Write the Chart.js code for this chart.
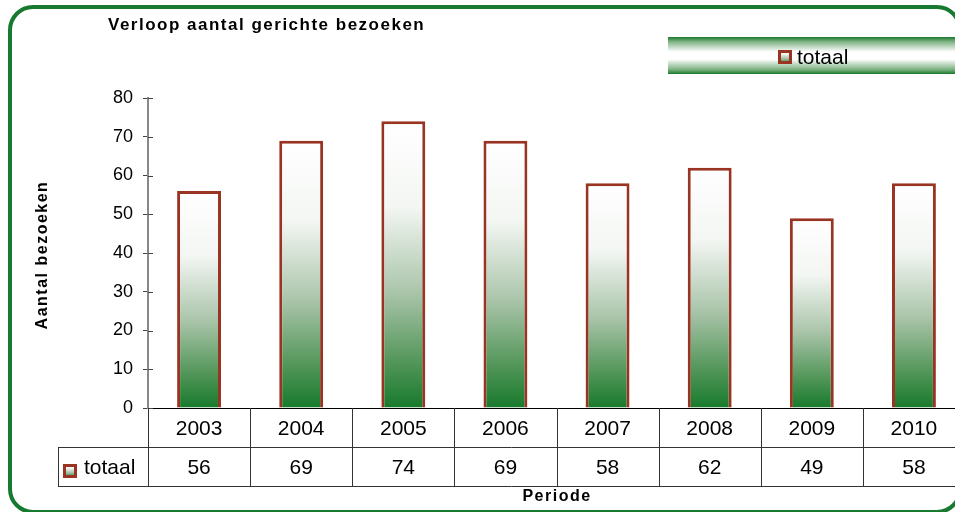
<!DOCTYPE html>
<html>
<head>
<meta charset="utf-8">
<script src="https://cdn.jsdelivr.net/npm/chart.js@4/dist/chart.umd.min.js"></script>
<style>
  html, body { margin: 0; padding: 0; background: #fff; overflow: hidden; }
  #wrap { position: relative; width: 955px; height: 512px; overflow: hidden; }
  #frame {
    position: absolute; left: 8px; top: 5px; width: 946px; height: 501px;
    border: 4px solid #177a30; border-radius: 25px; pointer-events: none;
  }
  canvas { position: absolute; left: 0; top: 0; }
</style>
</head>
<body>
<div id="wrap">
  <canvas id="chart" width="970" height="512"></canvas>
  <div id="frame"></div>
</div>
<script>
// data
var years  = ['2003', '2004', '2005', '2006', '2007', '2008', '2009', '2010'];
var totaal = [56, 69, 74, 69, 58, 62, 49, 58];
var yTicks = [0, 10, 20, 30, 40, 50, 60, 70, 80];

var FONT = "Arial, 'Liberation Sans', sans-serif";
var GREEN = '#177a2c';
var BROWN = '#993322';

// gradient for a bar, white at the top, green at the base
function barGradient(ctx, top, bottom) {
    var g = ctx.createLinearGradient(0, top, 0, bottom);
    g.addColorStop(0, '#ffffff');
    g.addColorStop(0.3, '#f3f6f3');
    g.addColorStop(0.6, '#a9c4a9');
    g.addColorStop(0.85, '#4f9456');
    g.addColorStop(1, GREEN);
    return g;
}

function marker(ctx, x, y, s) {
    ctx.save();
    ctx.fillStyle = barGradient(ctx, y, y + s);
    ctx.fillRect(x, y, s, s);
    ctx.lineWidth = 3;
    ctx.strokeStyle = BROWN;
    ctx.strokeRect(x + 1.5, y + 1.5, s - 3, s - 3);
    ctx.restore();
}

var extras = {
    id: 'extras',
    afterDraw: function (chart) {
        var ctx = chart.ctx;
        var area = chart.chartArea;
        var xs = chart.scales.x;
        var ys = chart.scales.y;
        ctx.save();

        // inner half of the y tick marks
        ctx.strokeStyle = '#444';
        ctx.lineWidth = 1;
        yTicks.forEach(function (v) {
            var py = Math.round(ys.getPixelForValue(v)) + 0.5;
            ctx.beginPath();
            ctx.moveTo(area.left, py);
            ctx.lineTo(area.left + 5, py);
            ctx.stroke();
        });

        // data table
        var row1 = area.bottom + 39;
        var row2 = area.bottom + 78;
        ctx.strokeStyle = '#333';
        ctx.beginPath();
        ctx.moveTo(58, row1 + 0.5); ctx.lineTo(area.right, row1 + 0.5);
        ctx.moveTo(58, row2 + 0.5); ctx.lineTo(area.right, row2 + 0.5);
        ctx.moveTo(58.5, row1); ctx.lineTo(58.5, row2);
        for (var i = 0; i <= years.length; i++) {
            var bx = Math.round(area.left + i * (area.right - area.left) / years.length) + 0.5;
            ctx.moveTo(bx, area.bottom); ctx.lineTo(bx, row2);
        }
        ctx.stroke();

        ctx.fillStyle = '#000';
        ctx.font = '21px ' + FONT;
        ctx.textBaseline = 'alphabetic';
        ctx.textAlign = 'center';
        totaal.forEach(function (v, i) {
            ctx.fillText(String(v), xs.getPixelForValue(i), row1 + 27);
        });
        ctx.textAlign = 'left';
        ctx.fillText('totaal', 84, row1 + 27);
        marker(ctx, 63, row1 + 17, 14);

        // titles
        ctx.font = 'bold 17px ' + FONT;
        ctx.letterSpacing = '1.5px';
        ctx.textAlign = 'left';
        ctx.fillText('Verloop aantal gerichte bezoeken', 108, 30);

        ctx.font = 'bold 16px ' + FONT;
        ctx.textAlign = 'center';
        ctx.fillText('Periode', 557, 501);

        ctx.save();
        ctx.translate(47, 255);
        ctx.rotate(-Math.PI / 2);
        ctx.fillText('Aantal bezoeken', 0, 0);
        ctx.restore();
        ctx.letterSpacing = '0px';

        // legend band
        var lg = ctx.createLinearGradient(0, 37, 0, 74);
        lg.addColorStop(0, GREEN);
        lg.addColorStop(0.12, '#7bb080');
        lg.addColorStop(0.4, '#ffffff');
        lg.addColorStop(0.6, '#ffffff');
        lg.addColorStop(0.88, '#7bb080');
        lg.addColorStop(1, GREEN);
        ctx.fillStyle = lg;
        ctx.fillRect(668, 37, 302, 37);
        marker(ctx, 778, 50, 14);
        ctx.fillStyle = '#000';
        ctx.font = '21px ' + FONT;
        ctx.textAlign = 'left';
        ctx.fillText('totaal', 797, 64);

        ctx.restore();
    }
};

new Chart(document.getElementById('chart').getContext('2d'), {
    type: 'bar',
    data: {
        labels: years,
        datasets: [{
            label: 'totaal',
            data: totaal,
            borderColor: BROWN,
            borderWidth: 3,
            categoryPercentage: 1,
            barPercentage: 0.43,
            backgroundColor: function (c) {
                var chart = c.chart;
                if (!chart.chartArea || c.raw === undefined) return GREEN;
                var ys = chart.scales.y;
                return barGradient(chart.ctx, ys.getPixelForValue(c.raw), ys.getPixelForValue(0));
            }
        }]
    },
    options: {
        responsive: false,
        animation: false,
        devicePixelRatio: 1,
        layout: { padding: { top: 98, right: 5, left: 0, bottom: 0 } },
        plugins: {
            legend: { display: false },
            tooltip: { enabled: false }
        },
        scales: {
            x: {
                grid: { display: false, drawTicks: false },
                border: { display: true, color: '#000', width: 1 },
                ticks: { color: '#000', font: { family: FONT, size: 21 }, padding: 9, maxRotation: 0 },
                afterFit: function (s) { s.height = 104; }
            },
            y: {
                min: 0,
                max: 80,
                grid: { drawOnChartArea: false, drawTicks: true, tickLength: 5, color: '#444' },
                border: { display: true, color: '#888', width: 2 },
                ticks: { stepSize: 10, color: '#000', font: { family: FONT, size: 18 }, padding: 10 },
                afterFit: function (s) { s.width = 148; }
            }
        }
    },
    plugins: [extras]
});
</script>
</body>
</html>
